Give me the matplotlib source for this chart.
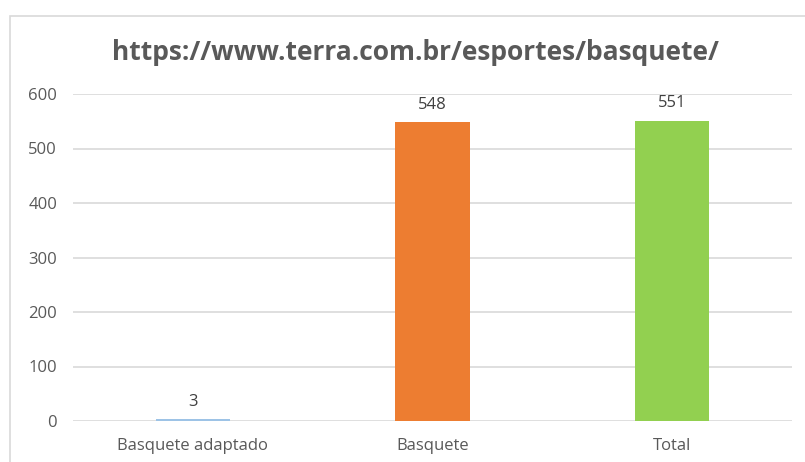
import matplotlib.pyplot as plt
from matplotlib.patches import Rectangle

categories = ['Basquete adaptado', 'Basquete', 'Total']
values = [3, 548, 551]
colors = ['#9dc3e6', '#ed7d31', '#92d050']
title = 'https://www.terra.com.br/esportes/basquete/'

plt.rcParams['font.family'] = ['Open Sans', 'DejaVu Sans']

fig = plt.figure(figsize=(8.05, 4.62), dpi=100)
ax = fig.add_axes([73/805, 1-421/462, (792-73)/805, (421-94)/462])

# chart frame (only left and top visible in the crop)
fig.patches.append(Rectangle((10/805, -0.05), 1.1, 1-16/462+0.05, transform=fig.transFigure,
                             fill=False, edgecolor='#d9d9d9', linewidth=1.2))

x = range(len(categories))
bars = ax.bar(x, values, width=0.31, color=colors, zorder=3)
for xi, v in zip(x, values):
    ax.annotate(str(v), (xi, v), xytext=(0, 7), textcoords='offset points',
                ha='center', va='bottom', fontsize=12, color='#404040')

ax.set_xlim(-0.5, 2.5)
ax.set_ylim(0, 600)
ax.set_yticks(range(0, 601, 100))
ax.set_xticks(list(x))
ax.set_xticklabels(categories)
ax.yaxis.grid(True, color='#d9d9d9', linewidth=1.2, zorder=0)
for s in ax.spines.values():
    s.set_visible(False)
ax.tick_params(length=0, labelsize=12, labelcolor='#595959')
ax.tick_params(axis='y', pad=11.5)
ax.tick_params(axis='x', pad=12)

fig.text(415/805, 1-52/462, title, ha='center', va='center', fontsize=19,
         fontweight='bold', color='#595959')

fig.savefig('out.png')
